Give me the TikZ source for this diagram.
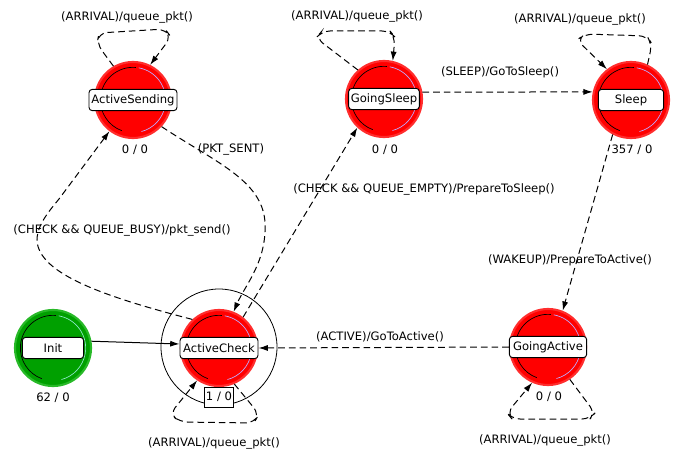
\documentclass[tikz,border=0pt]{standalone}
\usepackage{fontspec}
\setmainfont{DejaVu Sans}
\usetikzlibrary{arrows.meta,calc}
\definecolor{stred}{RGB}{255,0,0}
\definecolor{stredring}{RGB}{255,45,45}
\definecolor{stgreen}{RGB}{0,160,0}
\definecolor{stgreenring}{RGB}{40,185,40}
\definecolor{lav}{RGB}{190,170,255}
\definecolor{mint}{RGB}{140,230,200}
\tikzset{
 stbody/.style={circle, inner sep=0pt, minimum size=57pt, line width=1.6pt},
 redst/.style={stbody, fill=stred, draw=stredring},
 greenst/.style={stbody, fill=stgreen, draw=stgreenring},
 lbl/.style={draw=black, fill=white, rounded corners=2.5pt, line width=0.7pt, minimum height=16pt, inner sep=1pt, font=\fontsize{8.7}{10}\selectfont},
 cnt/.style={font=\fontsize{8.7}{10}\selectfont, inner sep=1pt},
 txt/.style={font=\fontsize{8.7}{10}\selectfont, inner sep=1pt},
 trans/.style={dash pattern=on 5pt off 3pt, line width=0.75pt, -{Latex[length=7pt,width=4.5pt]}},
 transsolid/.style={line width=0.75pt, -{Latex[length=7pt,width=4.5pt]}},
}
\newcommand\mkstate[6]{%
 \node[#3] (#1) at (#2) {};
 \draw[black, line width=0.5pt] ($(#1.center)+(85:24.5pt)$) arc[start angle=85, end angle=250, radius=24.5pt];
 \draw[#6, line width=0.5pt] ($(#1.center)+(80:24.5pt)$) arc[start angle=80, end angle=-75, radius=24.5pt];
 \node[lbl, minimum width=#5] (#1l) at (#2) {#4};
}
\begin{document}
\begin{tikzpicture}[x=0.75pt, y=-0.75pt]
\useasboundingbox (0,0) rectangle (688,452);
% states
\mkstate{AS}{133,100}{redst}{ActiveSending}{66pt}{lav}
\mkstate{GS}{384,99}{redst}{GoingSleep}{53pt}{lav}
\mkstate{SL}{631,100}{redst}{Sleep}{49pt}{lav}
\node[circle, draw, line width=0.6pt, minimum size=87pt, inner sep=0pt] (ACo) at (219,347) {};
\mkstate{AC}{219,348}{redst}{ActiveCheck}{58.5pt}{lav}
\mkstate{IN}{53,348}{greenst}{Init}{46pt}{mint}
\mkstate{GA}{548,347}{redst}{GoingActive}{58pt}{lav}
% counters
\node[cnt] (ASc) at (135,150) {0 / 0};
\node[cnt] (GSc) at (385,150) {0 / 0};
\node[cnt] (SLc) at (632,150) {357 / 0};
\node[cnt] (INc) at (53,398) {62 / 0};
\node[cnt, draw, fill=white, minimum width=21pt, minimum height=15pt, line width=0.6pt] (ACc) at (219,397) {1 / 0};
\node[cnt] (GAc) at (549,397) {0 / 0};
% transitions
\draw[transsolid] (IN.10) -- ([yshift=3pt]ACl.west);
\draw[trans, rounded corners=6pt] (AC.-67) -- (259,414) -- (254,423) -- (180,422) -- (170,414) -- (AC.-124);
\draw[trans, rounded corners=6pt] (AS.120) -- (97,44) -- (99,33) -- (165,29) -- (171,37) -- (AS.64);
\draw[trans, rounded corners=6pt] (GS.132) -- (316,38) -- (322,31) -- (390,31) -- (395,37) -- (GS.77);
\draw[trans, rounded corners=6pt] (SL.65) -- (652,44) -- (647,36) -- (585,34) -- (577,40) -- (SL.128);
\draw[trans, rounded corners=6pt] (GA.-56) -- (595,413) -- (590,419) -- (512,419) -- (507,413) -- (GA.-114);
\draw[trans] (GS.10) -- (SL.168);
\draw[trans] (SL.-118) -- (GA.68);
\draw[trans] (GAl.west) -- (ACl.east);
\draw[trans] (AC.52) -- (GS.-133);
\draw[trans] (AS.-43) .. controls (215,162) and (262,180) .. (265,222) .. controls (267,262) and (245,285) .. (AC.68);
\draw[trans] (AC.133) .. controls (110,298) and (38,275) .. (37,240) .. controls (37,222) and (55,205) .. (62,195) -- (AS.-127);
% labels
\node[txt] (lAS) at (127,17) {(ARRIVAL)/queue\_pkt()};
\node[txt] (lGS) at (357,16) {(ARRIVAL)/queue\_pkt()};
\node[txt] (lSL) at (580,19) {(ARRIVAL)/queue\_pkt()};
\node[txt] (lAC) at (214,443) {(ARRIVAL)/queue\_pkt()};
\node[txt] (lGA) at (545,440) {(ARRIVAL)/queue\_pkt()};
\node[txt] (lSleep) at (500,72) {(SLEEP)/GoToSleep()};
\node[txt] (lWake) at (570,260) {(WAKEUP)/PrepareToActive()};
\node[txt] (lAct) at (380,337) {(ACTIVE)/GoToActive()};
\node[txt] (lEmpty) at (424,189) {(CHECK \&\& QUEUE\_EMPTY)/PrepareToSleep()};
\node[txt] (lBusy) at (122,230) {(CHECK \&\& QUEUE\_BUSY)/pkt\_send()};
\node[txt] (lSent) at (231,149) {(PKT\_SENT)};
\end{tikzpicture}
\end{document}
